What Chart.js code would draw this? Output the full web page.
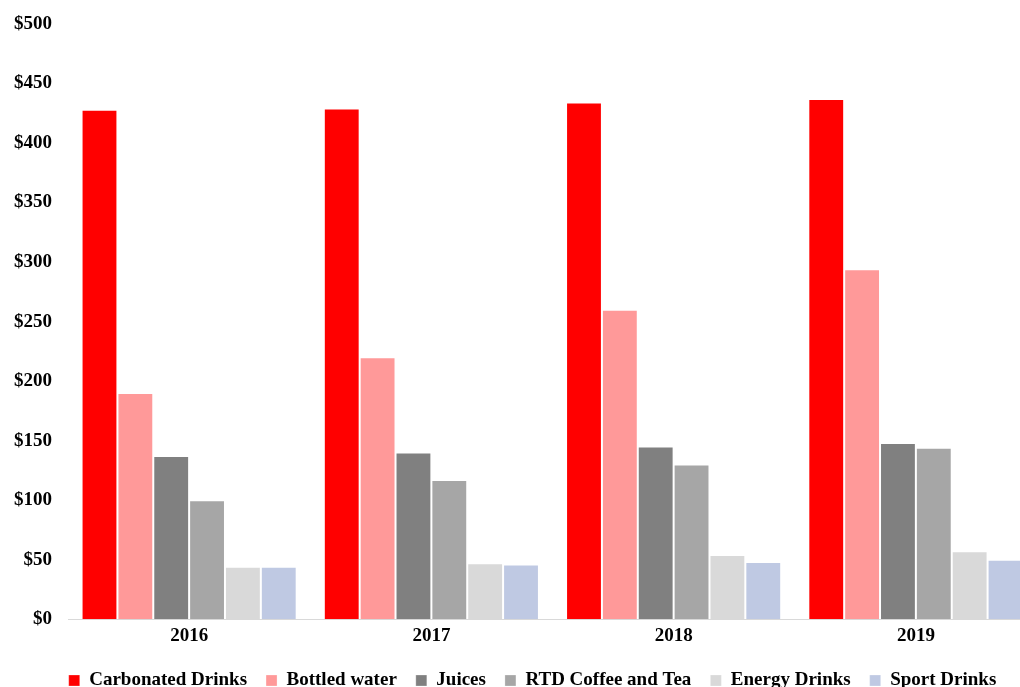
<!DOCTYPE html>
<html>
<head>
<meta charset="utf-8">
<script src="https://cdn.jsdelivr.net/npm/chart.js@4"></script>
<style>
  html, body { margin: 0; padding: 0; background: #fff; overflow: hidden; }
  #wrap { width: 1037px; height: 687px; }
</style>
</head>
<body>
<div id="wrap"><canvas id="c" width="1037" height="687"></canvas></div>
<script>
const years = ['2016', '2017', '2018', '2019'];
const carbonated = [428, 429, 434, 437];
const bottledWater = [190, 220, 260, 294];
const juices = [137, 140, 145, 148];
const rtdCoffeeTea = [100, 117, 130, 144];
const energyDrinks = [44, 47, 54, 57];
const sportDrinks = [44, 46, 48, 50];
const seriesNames = ['Carbonated Drinks', 'Bottled water', 'Juices', 'RTD Coffee and Tea', 'Energy Drinks', 'Sport Drinks'];
const seriesColors = ['#FF0000', '#FF9999', '#808080', '#A6A6A6', '#D9D9D9', '#BFC9E3'];
const seriesValues = [carbonated, bottledWater, juices, rtdCoffeeTea, energyDrinks, sportDrinks];
const yMin = 0, yMax = 500, yStep = 50;

const FONT = { family: '"Liberation Serif", "Times New Roman", serif', weight: 'bold', size: 19 };

const shiftLegend = {
  id: 'shiftLegend',
  afterLayout(chart) {
    const lg = chart.legend;
    if (lg) { lg.left += 14; lg.right += 14; }
  }
};

new Chart(document.getElementById('c'), {
  type: 'bar',
  data: {
    labels: years,
    datasets: seriesNames.map((n, i) => ({
      label: n,
      data: seriesValues[i],
      backgroundColor: seriesColors[i],
      borderColor: 'rgba(255,255,255,0.25)',
      borderWidth: 1,
      categoryPercentage: 0.888,
      barPercentage: 1.0
    }))
  },
  plugins: [shiftLegend],
  options: {
    responsive: false,
    animation: false,
    layout: { padding: { top: 24, left: 0, right: 0, bottom: -13 } },
    plugins: {
      tooltip: { enabled: false },
      legend: {
        position: 'bottom',
        labels: {
          color: '#000',
          font: FONT,
          boxWidth: 11,
          boxHeight: 11,
          padding: 19
        }
      }
    },
    scales: {
      x: {
        grid: { display: false, drawTicks: false },
        border: { display: true, color: '#D9D9D9', width: 1 },
        ticks: { color: '#000', font: FONT, padding: 5 }
      },
      y: {
        min: yMin, max: yMax,
        grid: { display: false, drawTicks: false },
        border: { display: false },
        ticks: {
          stepSize: yStep,
          color: '#000',
          font: FONT,
          padding: 16,
          callback: v => '$' + v
        },
        afterFit: s => { s.width = 68; s.paddingTop = 0; s.paddingBottom = 0; }
      }
    }
  }
});
</script>
</body>
</html>
